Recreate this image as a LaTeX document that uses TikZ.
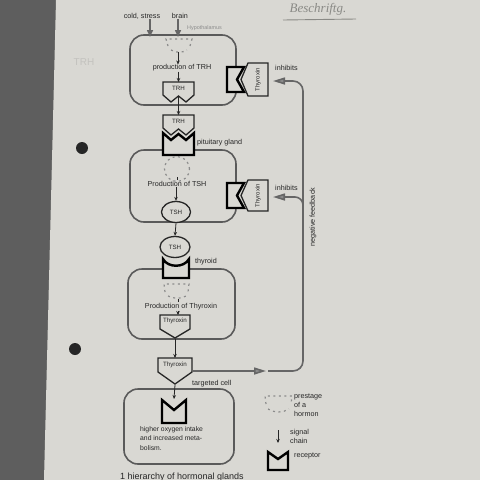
\documentclass[tikz,border=0pt]{standalone}
\usepackage{fontspec}
\setmainfont{Liberation Sans}
\newfontfamily\handfont{Liberation Serif}
\usetikzlibrary{arrows.meta,shapes.geometric}

\definecolor{paper}{HTML}{D9D8D3}
\definecolor{desk}{HTML}{5E5E5E}
\definecolor{ink}{HTML}{262626}
\definecolor{boxgray}{HTML}{5A5A5A}
\definecolor{dotgray}{HTML}{8C8C8C}
\definecolor{feedgray}{HTML}{666666}
\definecolor{pencil}{HTML}{8A8A86}

\tikzset{
  cellbox/.style={draw=boxgray, line width=1.6pt, rounded corners=14pt},
  hormone/.style={draw=ink, line width=1.3pt, fill=paper, line join=miter},
  receptor/.style={draw=black, line width=2.4pt, fill=paper, line join=miter},
  tshshape/.style={ellipse, draw=ink, line width=1.3pt, fill=paper, inner sep=0pt,
    minimum width=29pt, minimum height=21pt, font=\fontsize{6.2}{7}\selectfont, text=ink},
  sig/.style={draw=ink, line width=0.8pt, -{Stealth[length=4pt, width=3.5pt]}},
  input/.style={draw=feedgray, line width=1.5pt, -{Triangle[length=7pt, width=6pt]}},
  feed/.style={draw=feedgray, line width=1.6pt},
  feedtip/.style={-{Triangle[length=12pt, width=7pt, fill=dotgray]}},
  prestage/.style={draw=dotgray, line width=1.2pt, dash pattern=on 2pt off 3.5pt},
  lab/.style={font=\fontsize{7.2}{9.5}\selectfont, text=ink, inner sep=0pt},
  tag/.style={font=\fontsize{6.2}{7}\selectfont, text=ink, inner sep=0pt},
}

\begin{document}
\begin{tikzpicture}[x=1pt, y=-1pt]
\useasboundingbox (0,0) rectangle (480,480);
\clip (0,0) rectangle (480,480);

% Desk and sheet
\fill[desk] (0,0) rectangle (480,480);
\fill[paper] (56,0) -- (480,0) -- (480,480) -- (44,480) -- cycle;
\fill[black!85] (82,148) circle (6pt);
\fill[black!85] (75,349) circle (6pt);

% Pencil notes
\node[font=\handfont\itshape\fontsize{13}{14}\selectfont, text=pencil, inner sep=0pt] (note) at (318,9) {Beschriftg.};
\draw[pencil, line width=0.9pt] (283,20) -- (356,19);
\node[font=\fontsize{10}{11}\selectfont, text=paper!90!black, inner sep=0pt] (pencilTRH) at (84,62) {TRH};

% The four cells
\draw[cellbox] (130,35) rectangle (236,105);
\draw[cellbox] (130,150) rectangle (236,222);
\draw[cellbox] (128,269) rectangle (235,339);
\draw[cellbox] (124,389) rectangle (234,464);

% Hypothalamus
\node[lab] (cold) at (142,16) {cold, stress};
\node[lab] (brain) at (180,16) {brain};
\node[font=\fontsize{5.4}{6}\selectfont, text=dotgray, anchor=west, inner sep=0pt] (hypo) at (187,28) {Hypothalamus};
\coordinate (hypoInA) at (150,37);
\coordinate (hypoInB) at (178,37);
\draw[input] ([xshift=8pt]cold.south) -- (hypoInA);
\draw[input] ([xshift=-2pt]brain.south) -- (hypoInB);
\draw[prestage] (168,46) -- (166,39) -- (192,39) -- (190,46);
\draw[prestage] (171,50) .. controls (176,53) and (182,53) .. (187,50);
\coordinate (preA) at (178,52);
\node[lab] (prodTRH) at (182,68) {production of TRH};
\draw[sig] (preA) -- (preA |- prodTRH.north);
\draw[hormone] (163,82) -- (194,82) -- (194,95) -- (186,102) -- (178.5,96) -- (171,102) -- (163,95) -- cycle;
\node[tag] (trhA) at (178.5,88) {TRH};
\coordinate (trhAtop) at (178.5,82);
\coordinate (trhAout) at (178.5,97);
\draw[sig] (prodTRH.south -| trhAtop) -- (trhAtop);

% Pituitary gland
\draw[receptor] (163,133) -- (171,140) -- (178.5,134) -- (186,140) -- (194,133) -- (194,155) -- (163,155) -- cycle;
\draw[hormone] (163,115) -- (194,115) -- (194,128) -- (186,135) -- (178.5,129) -- (171,135) -- (163,128) -- cycle;
\node[tag] (trhB) at (178.5,121) {TRH};
\coordinate (trhBtop) at (178.5,115);
\draw[sig] (trhAout) -- (trhBtop);
\node[lab, anchor=west] (pit) at (197,143) {pituitary gland};
\draw[prestage] (177,169) circle (12.5pt);
\node[lab] (prodTSH) at (177,184) {Production of TSH};
\draw[draw=ink, line width=0.8pt] (177,177) -- (177,180);
\node[tshshape] (tshA) at (176,212) {TSH};
\draw[sig] (prodTSH.south -| tshA) -- (tshA.north);

% Thyroid
\node[tshshape, minimum width=30pt] (tshB) at (175,247) {TSH};
\draw[sig] (tshA.south) -- (tshB.north);
\draw[receptor] (163,259) .. controls (168,268) and (184,268) .. (189,259) -- (189,278) -- (163,278) -- cycle;
\node[lab, anchor=west] (thyroid) at (195,262) {thyroid};
\draw[prestage] (165,292) -- (164,284) -- (189,284) -- (188,292);
\draw[prestage] (168,296) .. controls (174,299) and (181,299) .. (186,296);
\draw[draw=ink, line width=0.8pt] (178,299) -- (178,302);
\node[lab] (prodThy) at (181,307) {Production of Thyroxin};
\draw[hormone] (160,315) -- (190,315) -- (190,329) -- (175,338) -- (160,329) -- cycle;
\node[tag] (thyA) at (175,321) {Thyroxin};
\coordinate (thyAtop) at (178,315);
\coordinate (thyAout) at (175,339);
\draw[sig] (prodThy.south -| thyAtop) -- (thyAtop);

% Thyroxin in the blood
\draw[hormone] (158,358) -- (192,358) -- (192,372) -- (175,384) -- (158,372) -- cycle;
\node[tag] (thyB) at (175,365) {Thyroxin};
\coordinate (thyBtop) at (175,358);
\coordinate (thyBout) at (175,385);
\coordinate (thyBside) at (193,371);
\draw[sig] (thyAout) -- (thyBtop);

% Targeted cell
\node[lab, anchor=west] (target) at (192,384) {targeted cell};
\draw[receptor] (162,400) -- (174,410) -- (186,400) -- (186,423) -- (162,423) -- cycle;
\coordinate (recTop) at (174,399);
\draw[sig] (thyBout) -- (recTop);
\node[lab, font=\fontsize{6.8}{9.8}\selectfont, anchor=north west, align=left] (effect) at (140,426)
  {higher oxygen intake\\and increased meta-\\bolism.};

% Thyroxin blocking the upper glands
\draw[receptor] (227,67) -- (244,67) -- (237,79.5) -- (244,92) -- (227,92) -- cycle;
\draw[hormone] (248,63) -- (268,63) -- (268,96) -- (248,96) -- (241,79.5) -- cycle;
\node[tag, font=\fontsize{6}{7}\selectfont, rotate=90] (thyL1) at (258,79.5) {Thyroxin};
\node[lab, anchor=west] (inhA) at (275,68) {inhibits};
\draw[receptor] (227,183) -- (244,183) -- (237,195.5) -- (244,208) -- (227,208) -- cycle;
\draw[hormone] (248,180) -- (268,180) -- (268,211) -- (248,211) -- (241,195.5) -- cycle;
\node[tag, font=\fontsize{6}{7}\selectfont, rotate=90] (thyL2) at (258,195.5) {Thyroxin};
\node[lab, anchor=west] (inhB) at (275,188) {inhibits};

% Negative feedback
\coordinate (feedA) at (266,371);
\coordinate (backA) at (273,81);
\coordinate (backB) at (273,197);
\draw[feed, feedtip] (thyBside) -- (feedA);
\draw[feed, feedtip, rounded corners=10pt, shorten <=2pt] (feedA) -- (303,371) -- (303,81) -- (backA);
\draw[feed, feedtip, rounded corners=8pt] (303,215) -- (303,197) -- (backB);
\node[lab, rotate=90] (negfb) at (313,217) {negative feedback};

% Legend
\draw[prestage] (266,404) -- (265,396) -- (292,396) -- (291,404);
\draw[prestage] (268,409) .. controls (274,413) and (283,413) .. (289,409);
\node[lab, anchor=north west, align=left, font=\fontsize{7.2}{8.6}\selectfont] (legPre) at (294,394) {prestage\\of a\\hormon};
\coordinate (legA) at (278,430);
\coordinate (legB) at (278,443);
\draw[sig] (legA) -- (legB);
\node[lab, anchor=north west, align=left, font=\fontsize{7.2}{9}\selectfont] (legSig) at (290,429) {signal\\chain};
\draw[receptor] (268,452) -- (278,459) -- (288,452) -- (288,470) -- (268,470) -- cycle;
\node[lab, anchor=west] (legRec) at (294,456) {receptor};

% Caption
\node[font=\fontsize{9}{10}\selectfont, text=ink, anchor=west, inner sep=0pt] (caption) at (120,477) {1 hierarchy of hormonal glands};
\end{tikzpicture}
\end{document}
